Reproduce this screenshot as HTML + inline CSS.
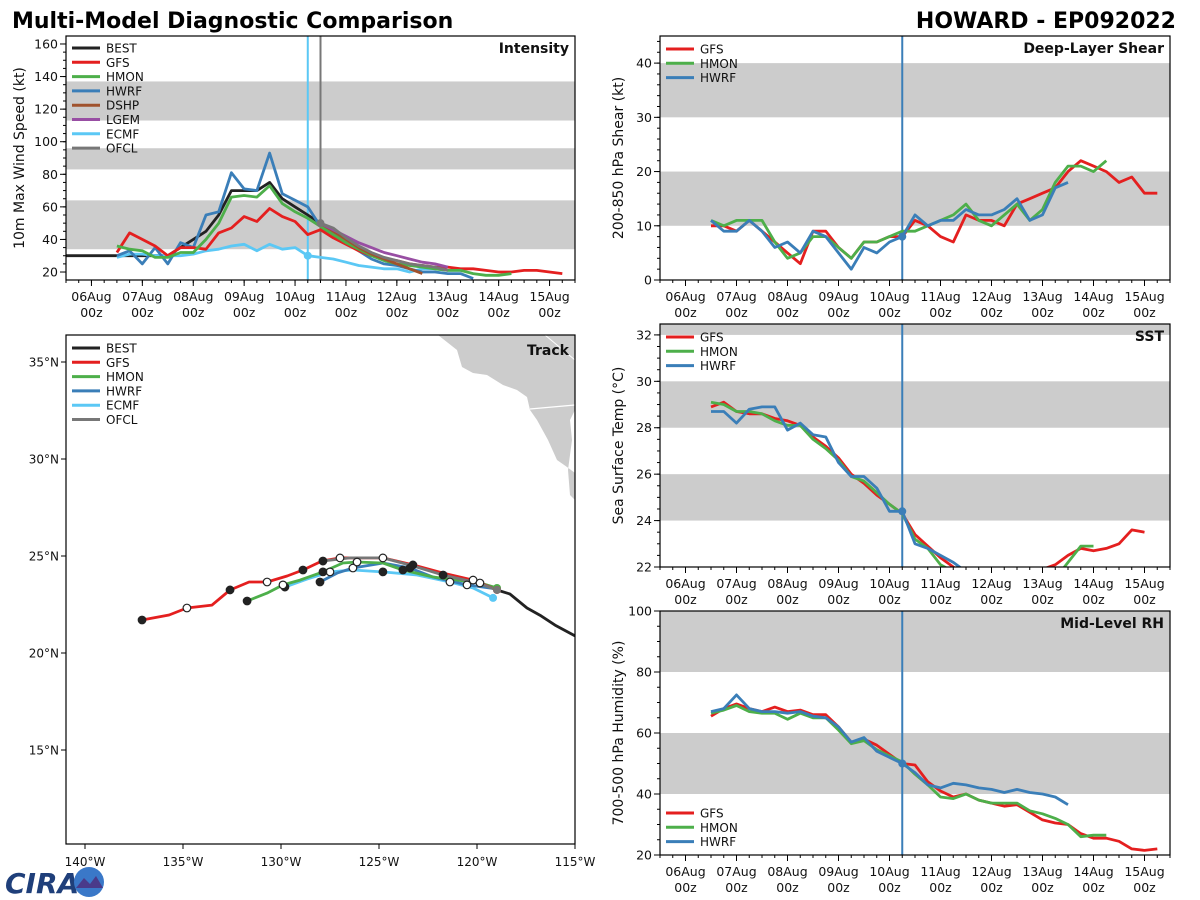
<!DOCTYPE html>
<html><head><meta charset="utf-8"><style>
body{margin:0;background:#fff;}
svg{display:block;font-family:"DejaVu Sans","Liberation Sans",sans-serif;}
</style></head><body>
<svg id="c" width="1200" height="900" viewBox="0 0 1200 900">
<text x="12" y="28" font-size="22" font-weight="bold">Multi-Model Diagnostic Comparison</text>
<text x="1176" y="28" font-size="22" font-weight="bold" text-anchor="end">HOWARD - EP092022</text>
<g>
<text x="5" y="893" font-size="28" font-weight="bold" fill="#1f3f7a" font-style="italic">CIRA</text>
<circle cx="89" cy="882" r="15" fill="#3a78c8"/>
<path d="M76 888 L84 878 L90 884 L96 876 L103 888 Z" fill="#4a3a8a"/>
</g>
</svg>
<script>
// ---------- DATA ----------
const xTickLabels=["06Aug","07Aug","08Aug","09Aug","10Aug","11Aug","12Aug","13Aug","14Aug","15Aug"];
const bestT=[-0.5,0,0.5,1,1.5,1.75,2,2.25,2.5,2.75,3,3.25,3.5,3.75,4,4.25,4.5];
const bestV=[30,30,30,30,30,35,40,45,55,70,70,70,75,65,60,55,50];
const gfsT0=0.5;
const gfsV=[32,44,40,36,30,35,35,34,44,47,54,51,59,54,51,43,46,41,37,33,30,28,27,25,24,23,23,22,22,21,20,20,21,21,20,19];
const hmonV=[36,34,33,29,29,32,32,40,50,66,67,66,73,62,57,53,48,43,38,34,30,27,25,24,23,22,21,21,19,18,18,19];
const hwrfV=[30,33,25,35,25,38,35,55,57,81,71,70,93,68,64,60,48,43,38,33,28,25,24,22,20,20,19,19,16];
const ecmfV=[29,31,31,30,30,30,31,33,34,36,37,33,37,34,35,30,29,28,26,24,23,22,22,20,22,22,21,21];
const dshpT0=4.5;
const dshpV=[50,45,40,35,31,28,25,22,19];
const lgemV=[50,46,42,38,35,32,30,28,26,25,23];
const ofclV=[50,47,41,36,32,29,27,25,24,23,21];
const shearGfs=[10,10,9,11,9,7,5,3,9,9,6,4,7,7,8,8,11,10,8,7,12,11,11,10,14,15,16,17,20,22,21,20,18,19,16,16];
const shearHmon=[11,10,11,11,11,7,4,5,8,8,6,4,7,7,8,9,9,10,11,12,14,11,10,12,14,11,13,18,21,21,20,22];
const shearHwrf=[11,9,9,11,9,6,7,5,9,8,5,2,6,5,7,8,12,10,11,11,13,12,12,13,15,11,12,17,18];
const sstGfs=[28.9,29.1,28.7,28.6,28.6,28.4,28.3,28.1,27.6,27.2,26.7,26.0,25.6,25.1,24.7,24.3,23.4,22.9,22.4,22.0,21.6,21.4,21.3,21.3,21.4,21.5,21.9,22.1,22.5,22.8,22.7,22.8,23.0,23.6,23.5];
const sstHmon=[29.1,29.0,28.7,28.7,28.6,28.3,28.1,28.1,27.5,27.1,26.6,25.9,25.7,25.2,24.7,24.3,23.2,22.8,22.1,21.8,21.4,21.2,21.1,21.1,21.2,21.2,21.3,21.5,22.2,22.9,22.9];
const sstHwrf=[28.7,28.7,28.2,28.8,28.9,28.9,27.9,28.2,27.7,27.6,26.5,25.9,25.9,25.4,24.4,24.4,23.0,22.8,22.5,22.2,21.8,21.5,21.3,21.2,21.2,21.3,21.4,21.5,21.5];
const rhGfs=[65.5,68,69.5,68,67,68.5,67,67.5,66,66,62,57,58,56,53,50,49.5,44,41,39,40,38,37,36,36.5,34,31.5,30.5,30,27,25.5,25.5,24.5,22,21.5,22];
const rhHmon=[66.5,67.5,69,67,66.5,66.5,64.5,66.5,65,65,61,56.5,57.5,54.5,52.5,50.5,46.5,43,39,38.5,40,38,37,37,37,34.5,33.5,32,30,26,26.5,26.5];
const rhHwrf=[67,68,72.5,68,67,67,66.5,67,65.5,65,62,57,58.5,54,52,50,47,43,42,43.5,43,42,41.5,40.5,41.5,40.5,40,39,36.5];
const trackBestLon=[115.0,116.02,116.73,117.45,118.32,118.98];
const trackBestLat=[20.88,21.44,21.91,22.32,23.04,23.25];
const trackGfsLon=[137.09,135.71,134.80,133.52,132.60,131.63,130.71,129.69,128.88,127.91,126.99,124.80,123.27,121.73,120.20,118.98];
const trackGfsLat=[21.70,21.96,22.32,22.47,23.25,23.66,23.66,23.97,24.28,24.74,24.90,24.90,24.54,24.12,23.76,23.25];
const trackHmonLon=[131.73,130.71,129.90,129.03,127.86,126.84,126.12,124.80,123.78,122.24,119.85,118.98];
const trackHmonLat=[22.68,23.09,23.51,23.76,24.18,24.64,24.69,24.64,24.28,23.92,23.61,23.35];
const trackHwrfLon=[128.01,127.14,126.33,124.80,123.42,122.24,120.51,118.98];
const trackHwrfLat=[23.66,24.12,24.38,24.64,24.38,23.92,23.51,23.30];
const trackEcmfLon=[129.80,128.67,127.50,126.33,124.80,123.06,121.38,120.20,119.18];
const trackEcmfLat=[23.40,23.81,24.18,24.28,24.18,24.02,23.66,23.35,22.84];
const trackOfclLon=[127.86,126.48,124.80,123.27,121.73,119.95,118.98];
const trackOfclLat=[24.74,24.90,24.90,24.49,24.02,23.61,23.25];
const latTicks=[35,30,25,20,15];
const lonTicks=[140,135,130,125,120,115];

const C={BEST:"#222222",GFS:"#e41f1f",HMON:"#4daf4a",HWRF:"#3a7eb8",DSHP:"#a0522d",LGEM:"#984ea3",ECMF:"#5bc8f5",OFCL:"#777777"};
const NS="http://www.w3.org/2000/svg";
const svg=document.getElementById('c');
function mk(tag,attrs,parent){const e=document.createElementNS(NS,tag);for(const k in attrs)e.setAttribute(k,attrs[k]);(parent||svg).appendChild(e);return e;}
function txt(x,y,s,size,anchor,parent,extra){const t=mk('text',Object.assign({x:x,y:y,'font-size':size,'text-anchor':anchor||'start',fill:'#111'},extra||{}),parent);t.textContent=s;return t;}
function seq(t0,n){const a=[];for(let i=0;i<n;i++)a.push(t0+0.25*i);return a;}

function panel(o){
  const g=mk('g',{});
  
  
  const X=d=>o.x0+(d+0.5)/10*(o.x1-o.x0);
  const Y=v=>o.y1-(v-o.ymin)/(o.ymax-o.ymin)*(o.y1-o.y0);
  const clipId='clip-'+o.name;
  const cp=mk('clipPath',{id:clipId},g);mk('rect',{x:o.x0,y:o.y0,width:o.x1-o.x0,height:o.y1-o.y0},cp);
  const inner=mk('g',{'clip-path':'url(#'+clipId+')'},g);
  o.bands.forEach(b=>{const r=mk('rect',{x:o.x0,y:Y(b[1]),width:o.x1-o.x0,height:Y(b[0])-Y(b[1]),fill:'#cccccc'},inner);
    
    });
  // y ticks
  for(let v=o.ymin;v<=o.ymax+1e-6;v+=o.minor){const vv=Math.round(v/o.minor)*o.minor;if(vv<o.ymin||vv>o.ymax)continue;mk('line',{x1:o.x0-3,x2:o.x0,y1:Y(vv),y2:Y(vv),stroke:'#000'},g);}
  o.yticks.forEach(v=>{mk('line',{x1:o.x0-6,x2:o.x0,y1:Y(v),y2:Y(v),stroke:'#000'},g);
    const t=txt(o.x0-8,Y(v)+4.5,String(v),12.5,'end',g);
    
    });
  // x ticks
  for(let d=-0.5;d<=9.5;d+=0.25)mk('line',{x1:X(d),x2:X(d),y1:o.y1,y2:o.y1+3,stroke:'#000'},g);
  xTickLabels.forEach((s,i)=>{mk('line',{x1:X(i),x2:X(i),y1:o.y1,y2:o.y1+6,stroke:'#000'},g);
    const t=txt(X(i),o.y1+21,s,12.5,'middle',g);
    
    
    txt(X(i),o.y1+37,'00z',12.5,'middle',g);});
  // vlines
  (o.vlines||[]).forEach(v=>mk('line',{x1:X(v[0]),x2:X(v[0]),y1:o.y0,y2:o.y1,stroke:v[1],'stroke-width':2},inner));
  // series
  o.series.forEach(s=>{
    const pts=s.v.map((v,i)=>X(s.t[i]).toFixed(1)+','+Y(v).toFixed(1)).join(' ');
    const p=mk('polyline',{points:pts,fill:'none',stroke:C[s.n],'stroke-width':2.8,'stroke-linejoin':'round'},inner);
    
    
    if(s.dot!==undefined){const i=s.t.indexOf(s.dot);if(i>=0)mk('circle',{cx:X(s.dot),cy:Y(s.v[i]),r:4,fill:C[s.n]},inner);}
  });
  mk('rect',{x:o.x0,y:o.y0,width:o.x1-o.x0,height:o.y1-o.y0,fill:'none',stroke:'#000','stroke-width':1.2},g);
  const tl=txt(o.x1-6,o.y0+17,o.title,14,'end',g,{'font-weight':'bold'});
  
  
  const yl=txt(0,0,o.ylabel,14,'middle',g,{transform:'translate('+o.ylx+','+((o.y0+o.y1)/2)+') rotate(-90)'});
  
  
  legend(g,o.x0+6,o.legY,o.legend);
}
function legend(g,x,y,names){
  names.forEach((n,i)=>{const e=mk('g',{},g);
    
    
    mk('line',{x1:x,x2:x+28,y1:y+i*14.3,y2:y+i*14.3,stroke:C[n],'stroke-width':3},e);
    txt(x+34,y+i*14.3+4.5,n,12,'start',e);});
}
const S=(n,v,t0,dot)=>({n:n,v:v,t:seq(t0,v.length),dot:dot});
panel({name:'intensity-panel',x0:66,x1:575,y0:36,y1:280,ymin:15.1,ymax:164.9,yticks:[20,40,60,80,100,120,140,160],minor:5,
  bands:[[34,64],[83,96],[113,137]],title:'Intensity',ylabel:'10m Max Wind Speed (kt)',ylx:24,legY:48,
  legend:['BEST','GFS','HMON','HWRF','DSHP','LGEM','ECMF','OFCL'],
  vlines:[[4.25,C.ECMF],[4.5,C.OFCL]],
  series:[{n:'BEST',v:bestV,t:bestT},S('ECMF',ecmfV,gfsT0,4.25),S('HWRF',hwrfV,gfsT0),S('GFS',gfsV,gfsT0),S('HMON',hmonV,gfsT0),
    S('DSHP',dshpV,dshpT0),S('LGEM',lgemV,dshpT0),S('OFCL',ofclV,dshpT0,4.5)]});
panel({name:'shear-panel',x0:660,x1:1170,y0:36,y1:280,ymin:0,ymax:45,yticks:[0,10,20,30,40],minor:2,
  bands:[[10,20],[30,40]],title:'Deep-Layer Shear',ylabel:'200-850 hPa Shear (kt)',ylx:623,legY:49,legend:['GFS','HMON','HWRF'],
  vlines:[[4.25,C.HWRF]],series:[S('GFS',shearGfs,0.5),S('HMON',shearHmon,0.5),S('HWRF',shearHwrf,0.5,4.25)]});
panel({name:'sst-panel',x0:660,x1:1170,y0:324,y1:567,ymin:22,ymax:32.47,yticks:[22,24,26,28,30,32],minor:0.5,
  bands:[[24,26],[28,30],[32,33]],title:'SST',ylabel:'Sea Surface Temp (°C)',ylx:623,legY:337,legend:['GFS','HMON','HWRF'],
  vlines:[[4.25,C.HWRF]],series:[S('GFS',sstGfs,0.5),S('HMON',sstHmon,0.5),S('HWRF',sstHwrf,0.5,4.25)]});
panel({name:'rh-panel',x0:660,x1:1170,y0:611,y1:855,ymin:20,ymax:100,yticks:[20,40,60,80,100],minor:5,
  bands:[[40,60],[80,100]],title:'Mid-Level RH',ylabel:'700-500 hPa Humidity (%)',ylx:623,legY:813,legend:['GFS','HMON','HWRF'],
  vlines:[[4.25,C.HWRF]],series:[S('GFS',rhGfs,0.5),S('HMON',rhHmon,0.5),S('HWRF',rhHwrf,0.5,4.25)]});

// ---------- TRACK ----------
(function(){
  const x0=66,x1=575,y0=335,y1=844;
  const LX=lon=>85+(140-lon)*19.6, LY=lat=>362+(35-lat)*19.4;
  const g=mk('g',{});
  
  
  const cp=mk('clipPath',{id:'clip-track'},g);mk('rect',{x:x0,y:y0,width:x1-x0,height:y1-y0},cp);
  const inner=mk('g',{'clip-path':'url(#clip-track)'},g);
  const land=mk('path',{d:'M438 335 L457 350 L462 367 L473 373 L487 375 L503 385 L517 390 L527 397 L530 410 L537 420 L548 440 L557 460 L567 467 L575 473 L575 500 L570 495 L568 470 L572 440 L570 420 L575 410 L575 335 Z',fill:'#cccccc'},inner);
  
  
  mk('line',{x1:530,y1:409,x2:575,y2:405,stroke:'#fff','stroke-width':1.2},inner);
  mk('line',{x1:545,y1:335,x2:575,y2:360,stroke:'#fff','stroke-width':1},inner);
  const tracks=[['ECMF',trackEcmfLon,trackEcmfLat],['HWRF',trackHwrfLon,trackHwrfLat],['HMON',trackHmonLon,trackHmonLat],['GFS',trackGfsLon,trackGfsLat],['OFCL',trackOfclLon,trackOfclLat],['BEST',trackBestLon,trackBestLat]];
  tracks.forEach(tk=>{
    const pts=tk[1].map((lo,i)=>LX(lo).toFixed(1)+','+LY(tk[2][i]).toFixed(1)).join(' ');
    const p=mk('polyline',{points:pts,fill:'none',stroke:C[tk[0]],'stroke-width':2.8,'stroke-linejoin':'round'},inner);
    
    
  });
  tracks.forEach(tk=>{
    if(tk[0]==='BEST')return;
    tk[1].forEach((lo,i)=>{if(i%2!==0||i===tk[1].length-1)return;
      const filled=(i/2)%2===0;
      const m=mk('circle',{cx:LX(lo),cy:LY(tk[2][i]),r:3.8,fill:filled?'#222':'#fff',stroke:'#222','stroke-width':1.2},inner);
      
      });
    const n=tk[1].length-1;
    mk('circle',{cx:LX(tk[1][n]),cy:LY(tk[2][n]),r:4,fill:C[tk[0]]},inner);
  });
  mk('rect',{x:x0,y:y0,width:x1-x0,height:y1-y0,fill:'none',stroke:'#000','stroke-width':1.2},g);
  latTicks.forEach(l=>{mk('line',{x1:x0-5,x2:x0,y1:LY(l),y2:LY(l),stroke:'#000'},g);
    const t=txt(x0-7,LY(l)+4.5,l+'°N',12,'end',g);
    
    });
  lonTicks.forEach(l=>{mk('line',{x1:LX(l),x2:LX(l),y1:y1,y2:y1+5,stroke:'#000'},g);
    const t=txt(LX(l),y1+22,l+'°W',12,'middle',g);
    
    });
  const tl=txt(x1-6,y0+20,'Track',14,'end',g,{'font-weight':'bold'});
  
  
  legend(g,x0+6,348,['BEST','GFS','HMON','HWRF','ECMF','OFCL']);
})();
</script>
</body></html>
